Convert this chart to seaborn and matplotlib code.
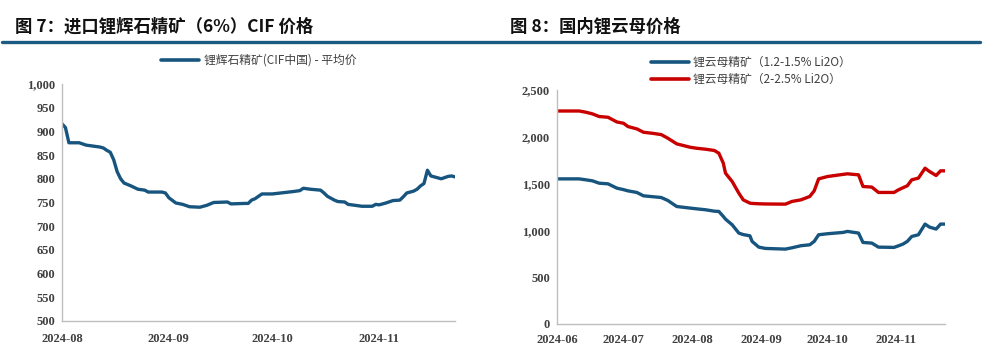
import pandas as pd
import matplotlib
matplotlib.use("Agg")
import matplotlib.pyplot as plt
import matplotlib.dates as mdates
from matplotlib.ticker import FuncFormatter
import seaborn as sns

# ---- data ----
spod_dates = ["2024-08-01", "2024-08-02", "2024-08-03", "2024-08-06", "2024-08-08",
              "2024-08-10", "2024-08-12", "2024-08-13", "2024-08-14", "2024-08-15",
              "2024-08-16", "2024-08-17", "2024-08-18", "2024-08-19", "2024-08-21",
              "2024-08-23", "2024-08-25", "2024-08-26", "2024-08-30", "2024-08-31",
              "2024-09-01", "2024-09-03", "2024-09-05", "2024-09-07", "2024-09-10",
              "2024-09-12", "2024-09-14", "2024-09-18", "2024-09-19", "2024-09-23",
              "2024-09-24", "2024-09-25", "2024-09-26", "2024-09-28", "2024-10-01",
              "2024-10-07", "2024-10-09", "2024-10-10", "2024-10-12", "2024-10-15",
              "2024-10-16", "2024-10-17", "2024-10-19", "2024-10-20", "2024-10-22",
              "2024-10-23", "2024-10-25", "2024-10-27", "2024-10-30", "2024-10-31",
              "2024-11-01", "2024-11-03", "2024-11-05", "2024-11-07", "2024-11-08",
              "2024-11-09", "2024-11-11", "2024-11-12", "2024-11-13", "2024-11-14",
              "2024-11-15", "2024-11-16", "2024-11-18", "2024-11-19", "2024-11-21",
              "2024-11-22", "2024-11-23"]
spod_price = [916, 908, 876, 876, 871,
              869, 867, 865, 860, 856,
              840, 815, 800, 791, 785,
              778, 776, 772, 772, 770,
              760, 749, 746, 741, 740,
              744, 750, 751, 747, 748,
              748, 755, 758, 768, 768,
              773, 775, 780, 778, 776,
              770, 763, 755, 752, 751,
              746, 744, 742, 742, 746,
              745, 749, 754, 755, 762,
              770, 774, 778, 785, 790,
              818, 806, 802, 800, 805,
              806, 804]

lepi_dates = ["2024-06-01", "2024-06-11", "2024-06-14", "2024-06-17", "2024-06-20",
              "2024-06-24", "2024-06-28", "2024-07-01", "2024-07-03", "2024-07-07",
              "2024-07-10", "2024-07-14", "2024-07-18", "2024-07-21", "2024-07-25",
              "2024-07-31", "2024-08-03", "2024-08-07", "2024-08-11", "2024-08-13",
              "2024-08-15", "2024-08-16", "2024-08-19", "2024-08-22", "2024-08-24",
              "2024-08-27", "2024-08-28", "2024-08-31", "2024-09-03", "2024-09-12",
              "2024-09-15", "2024-09-19", "2024-09-23", "2024-09-25", "2024-09-27",
              "2024-10-01", "2024-10-08", "2024-10-10", "2024-10-15", "2024-10-17",
              "2024-10-21", "2024-10-24", "2024-10-31", "2024-11-02", "2024-11-04",
              "2024-11-06", "2024-11-08", "2024-11-11", "2024-11-14", "2024-11-16",
              "2024-11-19", "2024-11-21", "2024-11-23"]
lepi_low = [1550, 1550, 1540, 1529, 1504,
            1497, 1451, 1435, 1422, 1405,
            1369, 1360, 1351, 1319, 1255,
            1238, 1230, 1220, 1205, 1202,
            1149, 1120, 1060, 971, 955,
            942, 882, 821, 807, 800,
            814, 836, 846, 882, 953,
            964, 978, 989, 971, 871,
            864, 821, 818, 835, 853,
            882, 935, 953, 1067, 1035,
            1014, 1067, 1067]
lepi_high = [2275, 2275, 2262, 2244, 2216,
             2208, 2158, 2144, 2109, 2084,
             2048, 2037, 2023, 1984, 1924,
             1888, 1877, 1867, 1853, 1824,
             1718, 1611, 1522, 1398, 1326,
             1291, 1288, 1284, 1282, 1280,
             1309, 1326, 1362, 1422, 1550,
             1575, 1598, 1604, 1593, 1469,
             1462, 1405, 1405, 1433, 1455,
             1476, 1540, 1558, 1664, 1629,
             1586, 1636, 1636]

spod_label = "锂辉石精矿(CIF中国) - 平均价"
low_label = "锂云母精矿（1.2-1.5% Li2O）"
high_label = "锂云母精矿（2-2.5% Li2O）"

df_spod = pd.DataFrame({"date": pd.to_datetime(spod_dates), "price": spod_price, "series": spod_label})
df_lepi = pd.concat([
    pd.DataFrame({"date": pd.to_datetime(lepi_dates), "price": lepi_low, "series": low_label}),
    pd.DataFrame({"date": pd.to_datetime(lepi_dates), "price": lepi_high, "series": high_label}),
])

sns.set_theme(style="white")
plt.rcParams['font.family'] = ['Liberation Serif', 'Noto Sans CJK SC', 'DejaVu Sans']

BLUE = "#17557f"
RED = "#c80000"
GRAY = "#bfbfbf"
TXT = "#404040"

fig = plt.figure(figsize=(10, 3.59), dpi=100)

# titles and the blue rule under them
fig.text(0.015, 0.925, "图 7：进口锂辉石精矿（6%）CIF 价格", fontsize=12.5, fontweight="bold",
         family=['Noto Sans CJK SC'], va="center", color="#111111")
fig.text(0.51, 0.925, "图 8：国内锂云母价格", fontsize=12.5, fontweight="bold",
         family=['Noto Sans CJK SC'], va="center", color="#111111")
fig.add_artist(plt.Line2D([0.002, 0.98], [0.883, 0.883], color="#1b5a82", lw=2.4,
                          transform=fig.transFigure))

ax1 = fig.add_axes([0.062, 0.106, 0.393, 0.660])
ax2 = fig.add_axes([0.557, 0.0975, 0.388, 0.652])

sns.lineplot(data=df_spod, x="date", y="price", hue="series", palette=[BLUE],
             linewidth=2.4, ax=ax1)
sns.lineplot(data=df_lepi, x="date", y="price", hue="series", palette=[BLUE, RED],
             linewidth=2.4, ax=ax2)

ax1.set_xlim(pd.Timestamp("2024-08-01"), pd.Timestamp("2024-11-23"))
ax1.set_ylim(500, 1000)
ax1.set_yticks(range(500, 1001, 50))
ax2.set_xlim(pd.Timestamp("2024-06-01"), pd.Timestamp("2024-11-23"))
ax2.set_ylim(0, 2500)
ax2.set_yticks(range(0, 2501, 500))

for ax in (ax1, ax2):
    ax.set_xlabel("")
    ax.set_ylabel("")
    ax.xaxis.set_major_locator(mdates.MonthLocator())
    ax.xaxis.set_major_formatter(mdates.DateFormatter("%Y-%m"))
    ax.yaxis.set_major_formatter(FuncFormatter(lambda v, p: f"{v:,.0f}"))
    for s in ("top", "right"):
        ax.spines[s].set_visible(False)
    for s in ("left", "bottom"):
        ax.spines[s].set_color(GRAY)
        ax.spines[s].set_linewidth(1.0)
    ax.tick_params(axis="both", which="major", direction="out", length=3,
                   width=0.8, color=GRAY, labelsize=9, labelcolor=TXT, pad=2)
    for lab in ax.get_xticklabels() + ax.get_yticklabels():
        lab.set_fontweight("bold")
ax1.tick_params(axis="x", pad=6)
ax2.tick_params(axis="x", pad=4)

leg1 = ax1.legend(loc="center", bbox_to_anchor=(0.5, 1.1), frameon=False,
                  handlelength=3.2, handletextpad=0.4, fontsize=8.5)
leg2 = ax2.legend(loc="center", bbox_to_anchor=(0.5, 1.08), frameon=False,
                  handlelength=3.2, handletextpad=0.4, fontsize=8.5, labelspacing=0.35)
for leg in (leg1, leg2):
    for t in leg.get_texts():
        t.set_color(TXT)
        t.set_family(['Noto Sans CJK SC', 'DejaVu Sans'])
    for h in leg.get_lines():
        h.set_linewidth(2.6)

fig.savefig("out.png", dpi=100, facecolor="white")
